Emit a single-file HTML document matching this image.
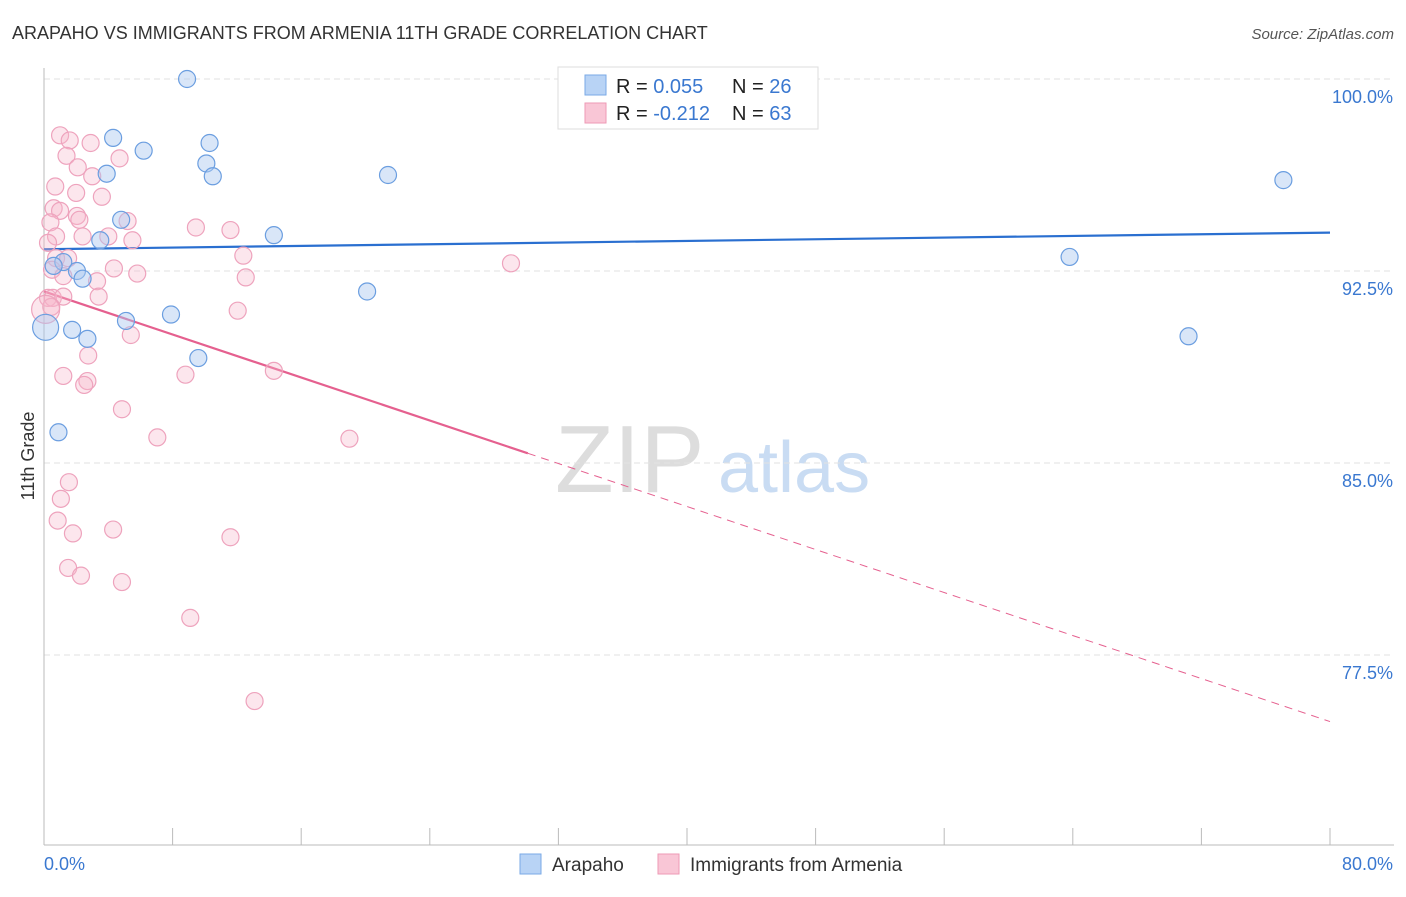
<!DOCTYPE html>
<html><head><meta charset="utf-8"><style>
body{margin:0;background:#fff;font-family:"Liberation Sans",sans-serif;}
svg text{font-family:"Liberation Sans",sans-serif;}
</style></head><body>
<svg id="c" width="1406" height="892" xmlns="http://www.w3.org/2000/svg">
<text x="12" y="39" font-size="18" fill="#333">ARAPAHO VS IMMIGRANTS FROM ARMENIA 11TH GRADE CORRELATION CHART</text>
<text x="1394" y="39" font-size="15" fill="#555" text-anchor="end" font-style="italic">Source: ZipAtlas.com</text>
<text x="34" y="456" font-size="18" fill="#333" text-anchor="middle" transform="rotate(-90 34 456)">11th Grade</text>
<text x="555" y="492" font-size="96" fill="#ddd" font-family="Liberation Serif">ZIP</text>
<text x="718" y="492" font-size="72" fill="#c9dcf3">atlas</text>
<g id="grid"></g><g id="axes"></g><g id="lines"></g><g id="pts"></g>
<g>
<rect x="558" y="67" width="260" height="62" fill="#fff" stroke="#ddd"/>
<rect x="585" y="75" width="21" height="20" fill="#b8d3f5" stroke="#7aaae6"/>
<rect x="585" y="103" width="21" height="20" fill="#f9c6d6" stroke="#ee9ab5"/>
<text x="616" y="93" font-size="20" fill="#222">R = <tspan fill="#3a78d0">0.055</tspan><tspan x="732">N = </tspan><tspan fill="#3a78d0">26</tspan></text>
<text x="616" y="120" font-size="20" fill="#222">R = <tspan fill="#3a78d0">-0.212</tspan><tspan x="732">N = </tspan><tspan fill="#3a78d0">63</tspan></text>
</g>
<g>
<rect x="520" y="854" width="21" height="20" fill="#b8d3f5" stroke="#7aaae6"/>
<text x="552" y="871" font-size="19" fill="#333">Arapaho</text>
<rect x="658" y="854" width="21" height="20" fill="#f9c6d6" stroke="#ee9ab5"/>
<text x="690" y="871" font-size="19" fill="#333">Immigrants from Armenia</text>
</g>
</svg>
<script>
const blueX=[8.9,4.3,6.2,10.3,10.1,3.9,10.5,21.4,4.8,14.3,3.5,1.2,0.6,2.05,2.4,20.1,7.9,5.1,1.75,2.7,9.6,0.1,0.9,63.8,71.2,77.1];
const blueY=[100.0,97.7,97.2,97.5,96.7,96.3,96.2,96.25,94.5,93.9,93.7,92.85,92.7,92.5,92.2,91.7,90.8,90.55,90.2,89.85,89.1,90.3,86.2,93.05,89.95,96.05];
const pinkX=[1.0,1.6,2.9,1.4,4.7,2.1,3.0,0.7,2.0,3.6,0.6,1.0,2.05,2.2,5.2,0.4,9.45,11.6,0.75,2.4,4.0,5.5,0.25,12.4,0.75,1.5,29.05,4.35,0.5,5.8,1.2,3.3,12.55,0.25,0.55,1.2,3.4,12.05,0.45,5.4,2.75,1.2,8.8,14.3,2.7,2.5,4.85,7.05,19.0,1.55,1.05,0.85,4.3,1.8,11.6,1.5,2.3,4.85,9.1,13.1,0.1];
const pinkY=[97.8,97.6,97.5,97.0,96.9,96.55,96.2,95.8,95.55,95.4,94.95,94.85,94.65,94.5,94.45,94.4,94.2,94.1,93.85,93.85,93.85,93.7,93.6,93.1,93.0,93.0,92.8,92.6,92.55,92.4,92.3,92.1,92.25,91.45,91.45,91.5,91.5,90.95,91.1,90.0,89.2,88.4,88.45,88.6,88.2,88.05,87.1,86.0,85.95,84.25,83.6,82.75,82.4,82.25,82.1,80.9,80.6,80.35,78.95,75.7,91.0];
const yTicks=[100,92.5,85,77.5];
const yTickLabels=["100.0%","92.5%","85.0%","77.5%"];
const blueTrend=[93.35,94.0];
const pinkTrend=[91.7,74.9];
const pinkSolidEnd=30.1;
const NS="http://www.w3.org/2000/svg";
const X=v=>44+v/80*1286;
const Y=v=>79+(100-v)*25.6;
function mk(t,a,p){const e=document.createElementNS(NS,t);for(const k in a)e.setAttribute(k,a[k]);document.getElementById(p).appendChild(e);return e;}
yTicks.forEach((t,i)=>{
 const l=mk('line',{x1:44,x2:1394,y1:Y(t),y2:Y(t),stroke:'#e2e2e2','stroke-dasharray':'6,4'},'grid');
 
 
 const tx=mk('text',{x:1393,y:Y(t)+24,'font-size':18,fill:'#3a78d0','text-anchor':'end'},'grid');
 tx.textContent=yTickLabels[i];
 
 
});
const ax=mk('line',{x1:44,x2:1394,y1:845,y2:845,stroke:'#bbb'},'axes');


const ay=mk('line',{x1:44,x2:44,y1:68,y2:845,stroke:'#bbb'},'axes');


for(let i=0;i<=10;i++){const t=mk('line',{x1:X(i*8),x2:X(i*8),y1:828,y2:845,stroke:'#bbb'},'axes');
 
 }
const x0=mk('text',{x:44,y:870,'font-size':18,fill:'#3a78d0'},'axes');x0.textContent='0.0%';


const x1=mk('text',{x:1393,y:870,'font-size':18,fill:'#3a78d0','text-anchor':'end'},'axes');x1.textContent='80.0%';


const bl=mk('line',{x1:X(0),y1:Y(blueTrend[0]),x2:X(80),y2:Y(blueTrend[1]),stroke:'#2a6fd0','stroke-width':2.2},'lines');


const pAt=x=>pinkTrend[0]+(pinkTrend[1]-pinkTrend[0])*x/80;
const ps=mk('line',{x1:X(0),y1:Y(pinkTrend[0]),x2:X(pinkSolidEnd),y2:Y(pAt(pinkSolidEnd)),stroke:'#e5608f','stroke-width':2.2},'lines');


const pd=mk('line',{x1:X(pinkSolidEnd),y1:Y(pAt(pinkSolidEnd)),x2:X(80),y2:Y(pinkTrend[1]),stroke:'#e5608f','stroke-width':1,'stroke-dasharray':'8,6'},'lines');


pinkX.forEach((x,i)=>{const c=mk('circle',{cx:X(x),cy:Y(pinkY[i]),r:i==pinkX.length-1?14:8.5,fill:'rgba(246,182,203,0.35)',stroke:'#eea3bd','stroke-width':1.2},'pts');
 
 });
blueX.forEach((x,i)=>{const c=mk('circle',{cx:X(x),cy:Y(blueY[i]),r:i==21?13:8.5,fill:'rgba(170,200,240,0.45)',stroke:'#6b9ee0','stroke-width':1.2},'pts');
 
 });
</script>
</body></html>
